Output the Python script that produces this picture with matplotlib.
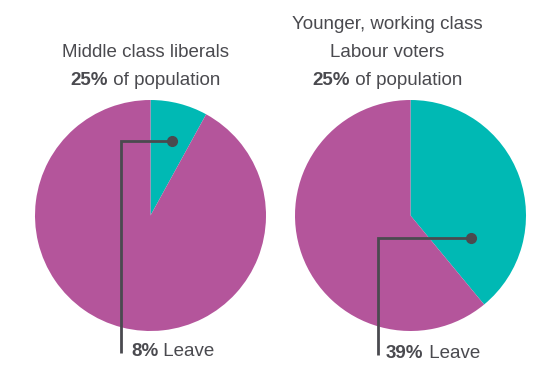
import matplotlib
matplotlib.use("Agg")
import matplotlib.pyplot as plt

# data
groups = ["Middle class liberals", "Younger, working class\nLabour voters"]
population_share = [25, 25]
leave_share = [8, 39]

teal = "#00B9B4"
purple = "#B4559B"
grey = "#4A4A4F"

plt.rcParams['font.family'] = ['Liberation Sans', 'DejaVu Sans']
FS = 13.5

H = 389
fig = plt.figure(figsize=(5.44, 3.89), dpi=100)
ax = fig.add_axes([0, 0, 1, 1])

centers = [(150.5, H - 215.5), (410.5, H - 215.5)]
radius = 115.5

for i in range(2):
    ax.pie([leave_share[i], 100 - leave_share[i]], colors=[teal, purple],
           startangle=90, counterclock=False, center=centers[i], radius=radius,
           wedgeprops=dict(linewidth=0))

ax.set_xlim(0, 544)
ax.set_ylim(0, H)
ax.set_aspect('auto')
ax.axis('off')
renderer = fig.canvas.get_renderer()


def text_width(s, weight):
    t = ax.text(0, 0, s, fontsize=FS, fontweight=weight)
    w = t.get_window_extent(renderer).width
    t.remove()
    return w


def mixed_line(x, y, parts, align='center'):
    # parts: list of (string, weight)
    widths = [text_width(s, w) for s, w in parts]
    start = x - sum(widths) / 2 if align == 'center' else x
    for (s, w), wd in zip(parts, widths):
        ax.text(start, y, s, ha='left', va='center', fontsize=FS,
                color=grey, fontweight=w)
        start += wd


# titles
title_pos = [(145, 52), (387, 24)]
for i in range(2):
    x, y = title_pos[i]
    lines = groups[i].split("\n")
    for j, line in enumerate(lines):
        ax.text(x, H - (y + 28 * j), line, ha='center', va='center',
                fontsize=FS, color=grey)
    yb = H - (y + 28 * len(lines))
    mixed_line(x, yb, [(f"{population_share[i]}%", 'bold'), (" of population", 'normal')])

# leader lines + labels
leaders = [((172, 141), 121, 353, 131, 352), ((471, 238), 378, 355, 386, 354)]
for i, (dot, xcorner, ybot, lx, ly) in enumerate(leaders):
    ax.plot([dot[0], xcorner, xcorner], [H - dot[1], H - dot[1], H - ybot],
            color=grey, lw=2, solid_capstyle='butt', solid_joinstyle='miter')
    ax.plot(dot[0], H - dot[1], 'o', color=grey, ms=7)
    mixed_line(lx, H - ly, [(f"{leave_share[i]}%", 'bold'), (" Leave", 'normal')], align='left')

fig.savefig("out.png", dpi=100)
